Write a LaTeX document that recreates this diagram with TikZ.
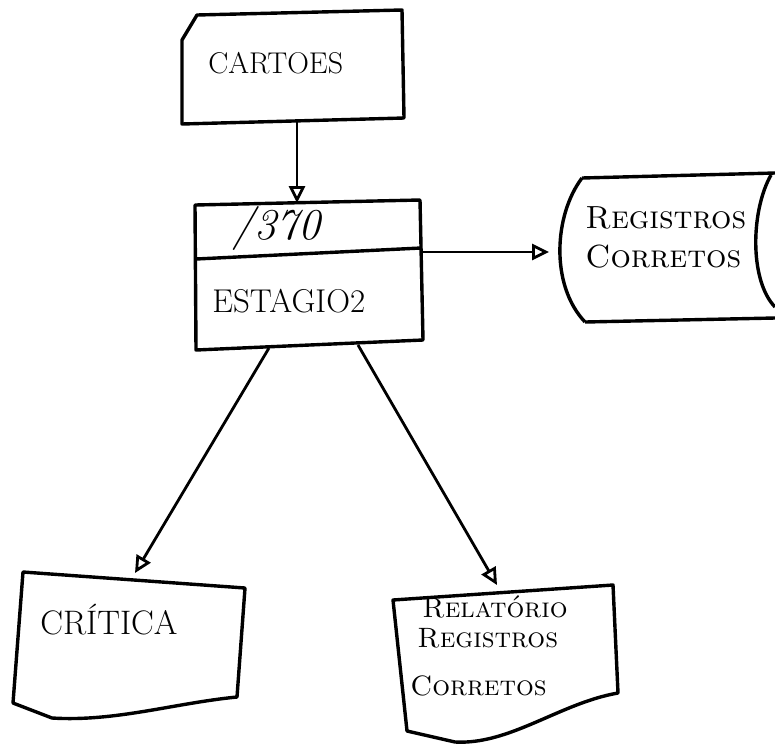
\documentclass[tikz,border=0pt]{standalone}
\usepackage{tikz}
\usetikzlibrary{arrows.meta}

\tikzset{
  outline/.style={black, line width=1.7pt, line join=round},
  flowarrow/.style={black, line width=1.4pt, -{Triangle[open,length=8.5pt,width=8pt]}},
  txt/.style={anchor=west, inner sep=0pt, font=\fontsize{16}{19}\selectfont},
  smalltxt/.style={anchor=west, inner sep=0pt, font=\fontsize{14}{17}\selectfont}
}

\begin{document}
\begin{tikzpicture}[x=0.5pt,y=-0.5pt]
\useasboundingbox (0,0) rectangle (775,745);
% cartao
\draw [outline] (182,40) -- (197,15) -- (402,10) -- (404,118) -- (182,124) -- cycle;
\node [txt, font=\fontsize{15}{18}\selectfont] (cartoes) at (208,63) {CARTOES};
\coordinate (cartoesS) at (297,121);
% processamento
\draw [outline] (195,205) -- (420,200) -- (423,340) -- (196,350) -- cycle;
\draw [outline] (196,259) -- (421,248);
\node [txt, font=\fontsize{22}{24}\selectfont\itshape] (modelo) at (232,228) {/370};
\node [txt, font=\fontsize{16.5}{19}\selectfont] (estagio) at (212,301) {ESTAGIO2};
\coordinate (procN) at (297,203);
\coordinate (procE) at (422,252);
\coordinate (procSW) at (269,348);
\coordinate (procSE) at (358,345);
% registros corretos (disco)
\draw [outline] (582,178) -- (775,173);
\draw [outline] (585,322) -- (775,318);
\draw [outline] (582,178) .. controls (554,215) and (550,285) .. (585,322);
\draw [outline] (771,175) .. controls (751,210) and (749,280) .. (775,307);
\node [txt] (registros) at (585,218) {\textsc{Registros}};
\node [txt] (corretos) at (585,257) {\textsc{Corretos}};
\coordinate (discoW) at (549,252);
% critica
\draw [outline] (23,572) -- (245,588) -- (237,697) .. controls (175,703) and (115,722) .. (52,718) -- (13,703) -- cycle;
\node [txt, font=\fontsize{17}{20}\selectfont] (critica) at (40,620) {CRÍTICA};
\coordinate (criticaN) at (135,573);
% relatorio
\draw [outline] (393,600) -- (613,585) -- (618,693) .. controls (560,703) and (510,745) .. (455,742) -- (407,731) -- cycle;
\node [smalltxt] (relatorio) at (422,607) {\textsc{Relatório}};
\node [smalltxt] (relreg) at (417,638) {\textsc{Registros}};
\node [smalltxt] (relcor) at (410,686) {\textsc{Corretos}};
\coordinate (relatorioN) at (497,585);
% fluxo
\draw [flowarrow] (cartoesS) -- (procN);
\draw [flowarrow] (procE) -- (discoW);
\draw [flowarrow] (procSW) -- (criticaN);
\draw [flowarrow] (procSE) -- (relatorioN);
\end{tikzpicture}
\end{document}
